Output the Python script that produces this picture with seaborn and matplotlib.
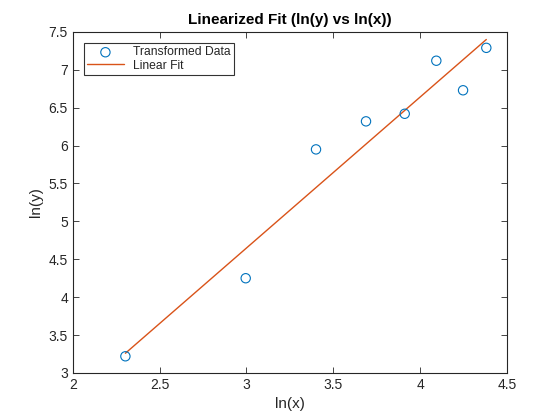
import matplotlib
matplotlib.use("Agg")
import matplotlib.pyplot as plt
import seaborn as sns
import pandas as pd

ln_x = [2.303, 2.996, 3.401, 3.689, 3.912, 4.094, 4.248, 4.382]
ln_y = [3.22, 4.25, 5.95, 6.32, 6.42, 7.12, 6.73, 7.29]
fit_x = [2.303, 4.382]
fit_y = [3.26, 7.40]

sns.set_theme(style="white")
plt.rcParams['font.family'] = ['Liberation Sans', 'DejaVu Sans']

fig = plt.figure(figsize=(5.6, 4.2), dpi=100)
ax = fig.add_axes([0.13, 0.112, 0.775, 0.812])

data = pd.DataFrame({"x": ln_x, "y": ln_y})
fit = pd.DataFrame({"x": fit_x, "y": fit_y})

sns.scatterplot(data=data, x="x", y="y", ax=ax, marker="o", s=45,
                facecolor="none", edgecolor="#0072BD", linewidth=0.8,
                label="Transformed Data", zorder=3)
sns.lineplot(data=fit, x="x", y="y", ax=ax, color="#D95319", linewidth=1.0,
             label="Linear Fit")

ax.set_xlim(2, 4.5)
ax.set_ylim(3, 7.5)
ax.set_xticks([2, 2.5, 3, 3.5, 4, 4.5])
ax.set_xticklabels(["2", "2.5", "3", "3.5", "4", "4.5"])
ax.set_yticks([3, 3.5, 4, 4.5, 5, 5.5, 6, 6.5, 7, 7.5])
ax.set_yticklabels(["3", "3.5", "4", "4.5", "5", "5.5", "6", "6.5", "7", "7.5"])

tc = "#262626"
ax.tick_params(direction="in", length=4, width=0.6, colors=tc, labelsize=10,
               top=True, right=True, bottom=True, left=True)
for s in ax.spines.values():
    s.set_color(tc)
    s.set_linewidth(0.8)
ax.set_xlabel("ln(x)", fontsize=11, color=tc)
ax.set_ylabel("ln(y)", fontsize=11, color=tc)
ax.set_title("Linearized Fit (ln(y) vs ln(x))", fontsize=11, fontweight="bold", color="black")

leg = ax.legend(loc="upper left", fontsize=8.7, frameon=True, fancybox=False,
                edgecolor="black", borderpad=0.3, labelspacing=0.1,
                handlelength=3.0, borderaxespad=0.9)
leg.get_frame().set_linewidth(0.8)

fig.savefig("out.png", dpi=100)
